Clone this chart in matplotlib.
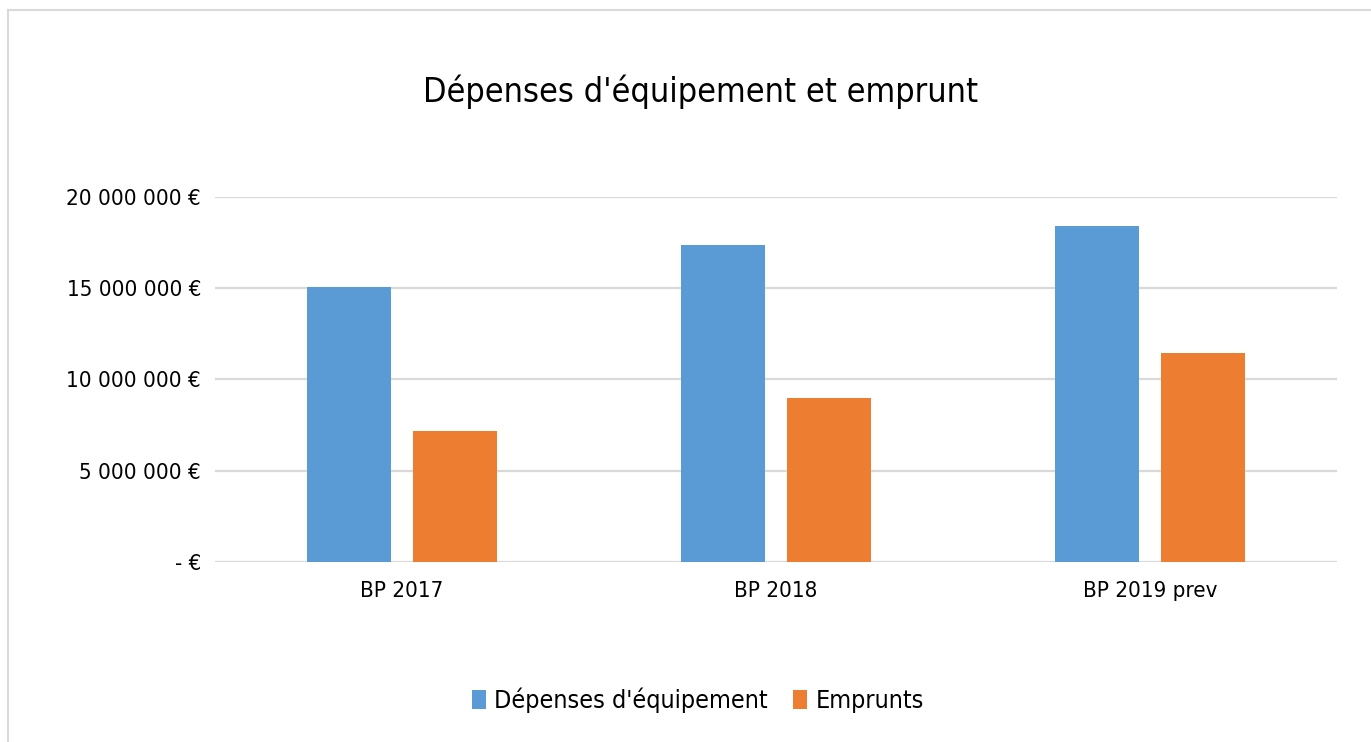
import numpy as np
import matplotlib.pyplot as plt
from matplotlib.patches import Rectangle

categories = ["BP 2017", "BP 2018", "BP 2019 prev"]
depenses = [15060000, 17360000, 18400000]
emprunts = [7170000, 8980000, 11450000]
yticks = [0, 5000000, 10000000, 15000000, 20000000]
ylabels = ["- €", "5 000 000 €", "10 000 000 €", "15 000 000 €", "20 000 000 €"]

plt.rcParams['font.family'] = ['DejaVu Sans']
plt.rcParams['font.stretch'] = 'condensed'

fig = plt.figure(figsize=(13.71, 7.42), dpi=100)
ax = fig.add_axes([0.1568, 0.2426, 0.9752 - 0.1568, 0.7345 - 0.2426])

x = np.arange(len(categories))
w = 0.2246
off = 0.1417
ax.bar(x - off, depenses, w, color='#5b9bd5', label="Dépenses d'équipement", zorder=3)
ax.bar(x + off, emprunts, w, color='#ed7d31', label="Emprunts", zorder=3)

ax.set_xlim(-0.5, 2.5)
ax.set_ylim(0, 20000000)
ax.set_yticks(yticks)
ax.set_yticklabels(ylabels, fontsize=16)
ax.set_xticks(x)
ax.set_xticklabels(categories, fontsize=16)
ax.tick_params(length=0)
ax.tick_params(axis='y', pad=10)
ax.tick_params(axis='x', pad=14)
ax.grid(axis='y', color='#d9d9d9', linewidth=1.6, zorder=0)
for s in ax.spines.values():
    s.set_visible(False)

fig.text(0.511, 0.877, "Dépenses d'équipement et emprunt", ha='center', va='center', fontsize=24.5)

fig.legend(loc='center', bbox_to_anchor=(0.509, 0.056), ncol=2, frameon=False,
           fontsize=18, handlelength=0.56, handleheight=0.8, handletextpad=0.35, columnspacing=1.0)

fig.patches.append(Rectangle((8 / 1371, -0.1), 2, 1.1 - 10.5 / 742, transform=fig.transFigure,
                             fill=False, edgecolor='#d9d9d9', linewidth=1.5))

fig.savefig("out.png", dpi=100)
